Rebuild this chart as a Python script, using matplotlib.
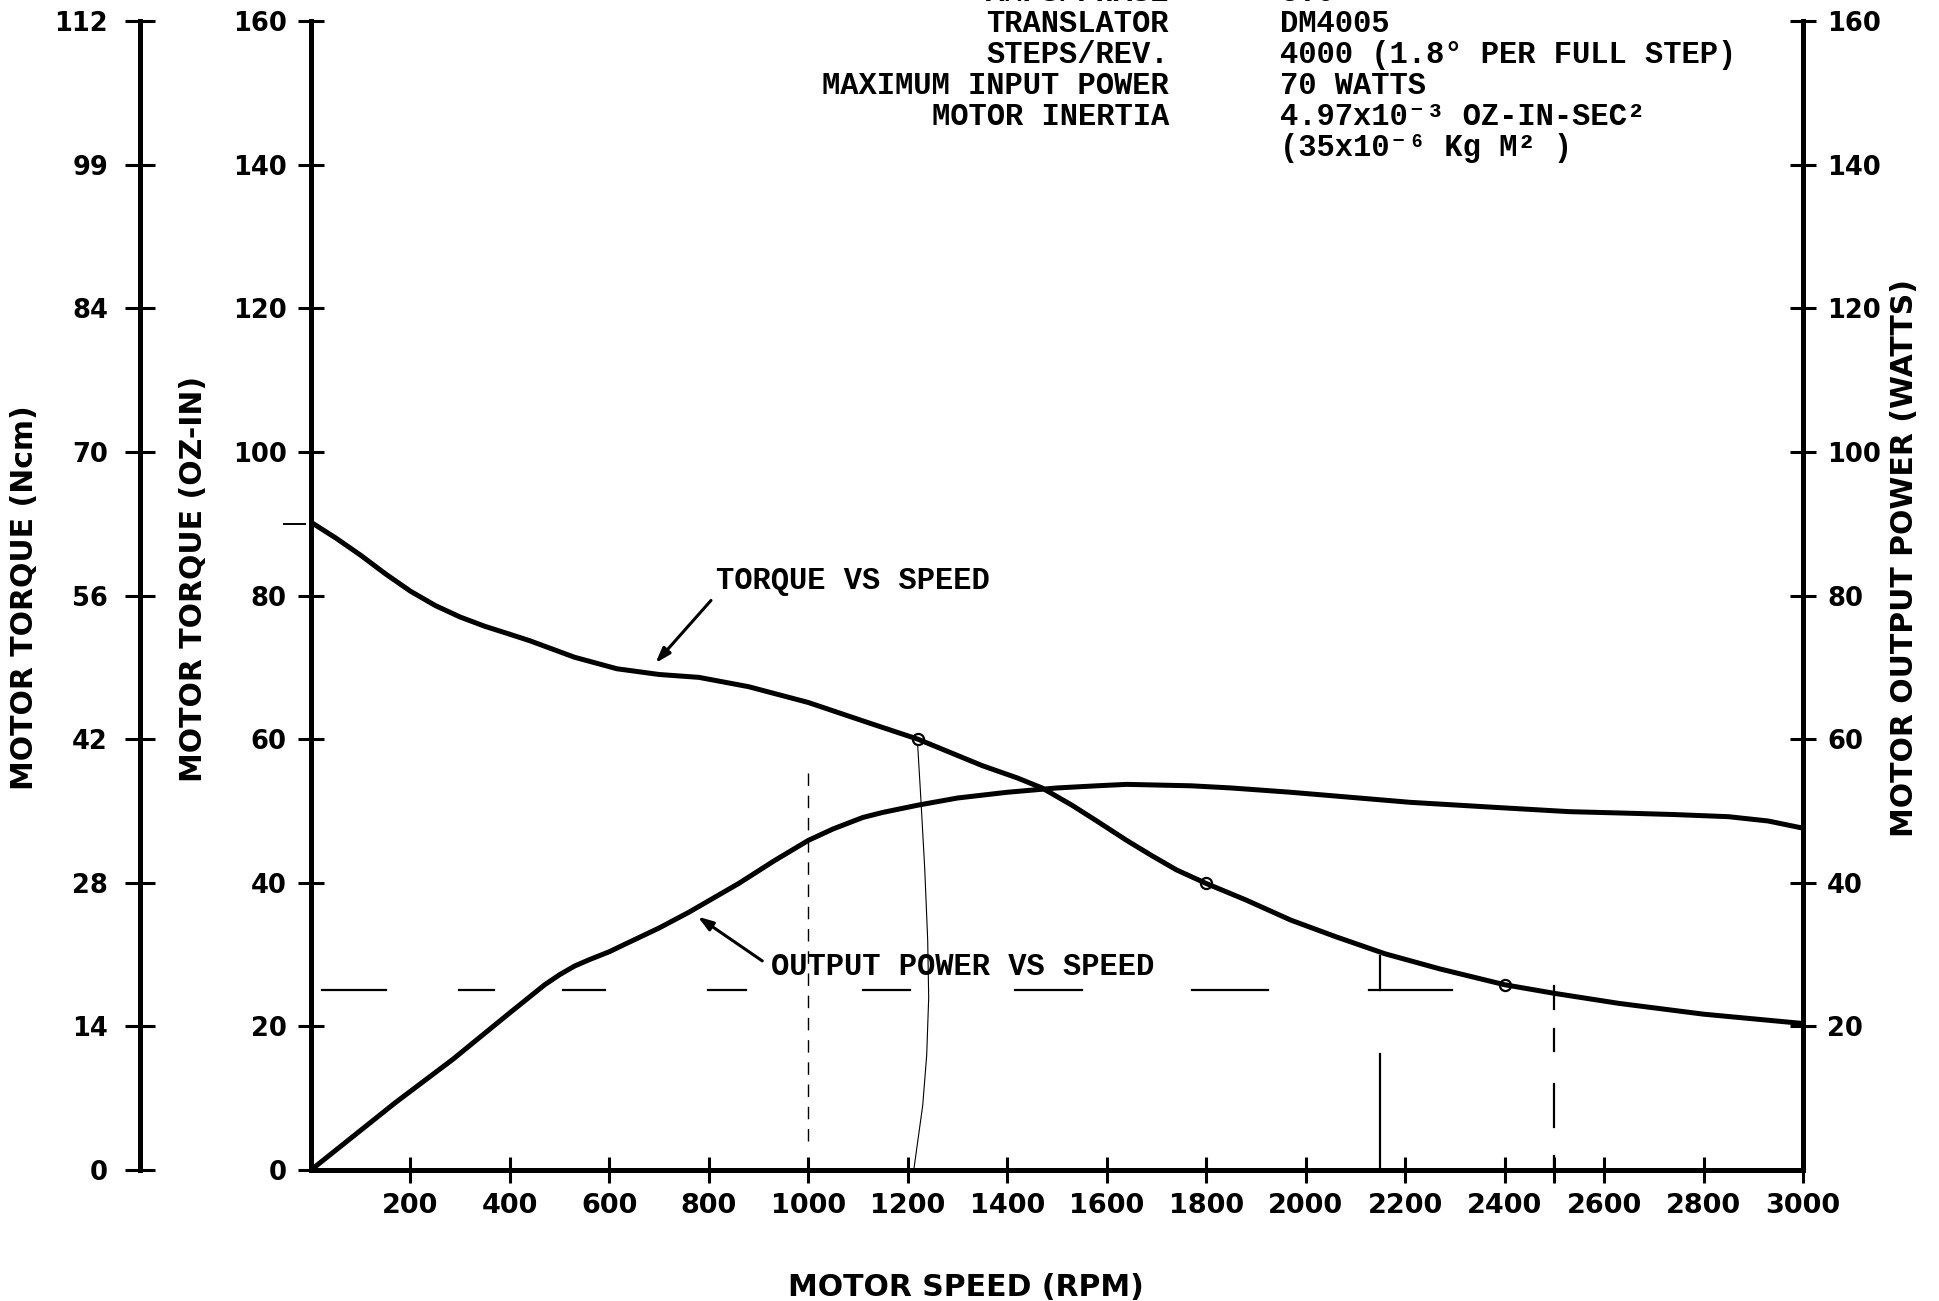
#!/usr/bin/env python3
"""
Stepper motor torque / output power vs speed curve
"""

import matplotlib
matplotlib.use('Agg')
import matplotlib.pyplot as plt

# torque vs speed (oz-in)
torque_rpm = [0, 50, 100, 150, 200, 250, 300, 350, 400, 440, 530, 615, 700, 780, 880,
              1000, 1120, 1220, 1350, 1420, 1470, 1530, 1580, 1640, 1690, 1740, 1800, 1880,
              1970, 2060, 2160, 2270, 2400, 2500, 2630, 2800, 3000]
torque_ozin = [90.2, 88.0, 85.6, 83.0, 80.6, 78.6, 77.0, 75.7, 74.6, 73.7, 71.4, 69.8, 69.0,
               68.6, 67.3, 65.1, 62.3, 60.0, 56.3, 54.6, 53.2, 50.8, 48.6, 45.9, 43.8, 41.8,
               39.9, 37.6, 34.8, 32.5, 30.1, 28.0, 25.8, 24.6, 23.2, 21.7, 20.4]

# output power vs speed (watts)
power_rpm = [0, 170, 285, 400, 470, 500, 530, 560, 600, 630, 700, 760, 860, 930, 1000, 1050,
             1110, 1150, 1220, 1300, 1400, 1500, 1580, 1640, 1770, 1850, 1970, 2090, 2210,
             2380, 2530, 2640, 2740, 2850, 2930, 3000]
power_watts = [0, 9.4, 15.4, 21.9, 25.8, 27.2, 28.4, 29.3, 30.4, 31.4, 33.7, 35.9, 39.9, 43.0,
               45.9, 47.5, 49.1, 49.8, 50.8, 51.8, 52.6, 53.2, 53.5, 53.7, 53.5, 53.2, 52.6,
               51.9, 51.2, 50.5, 49.9, 49.7, 49.5, 49.2, 48.6, 47.6]

# hand marked points on the torque curve
marked_rpm = [1220, 1800, 2400]
marked_ozin = [60.0, 40.0, 25.8]

# dashed 25 line, drawn by hand as separate dashes (rpm start, rpm end)
dash_level = 25
dash_segments = [(23, 150), (298, 367), (507, 592), (798, 874), (1110, 1205),
                 (1415, 1550), (1772, 1925), (2128, 2295)]

# vertical construction lines
v2150_segments = [(25, 29.8), (0, 16.2)]
v2500_segments = [(22.4, 25.6), (16.6, 19.6), (6.0, 12.0), (0.2, 2.0)]
v1000_range = (4, 56)

# the thin pencil line near 1200 rpm
pencil_rpm = [1220, 1226, 1234, 1240, 1242, 1238, 1230, 1218, 1212]
pencil_val = [59, 52, 42, 32, 24, 16, 9, 3, 0]

x_ticks = list(range(200, 3001, 200))
oz_ticks = list(range(0, 161, 20))
ncm_labels = ['0', '14', '28', '42', '56', '70', '84', '99', '112']
watt_ticks = list(range(20, 161, 20))

spec_names = ['AMPS/PHASE', 'TRANSLATOR', 'STEPS/REV.', 'MAXIMUM INPUT POWER', 'MOTOR INERTIA', '']
spec_values = ['5.0', 'DM4005', '4000 (1.8\u00b0 PER FULL STEP)', '70 WATTS',
               '4.97x10\u207b\u00b3 OZ-IN-SEC\u00b2', '(35x10\u207b\u2076 Kg M\u00b2 )']

W, H = 1940, 1301
mono = ['Liberation Mono', 'DejaVu Sans Mono']

fig = plt.figure(figsize=(W / 100, H / 100), dpi=100)
x0, x1, y0, y1 = 311, 1803, 1170, 21
ax = fig.add_axes([x0 / W, (H - y0) / H, (x1 - x0) / W, (y0 - y1) / H])
ax.set_xlim(0, 3000)
ax.set_ylim(0, 160)

lw_axis = 3.6
tick_kw = dict(direction='inout', length=19, width=2.2, color='black')

# main (oz-in) axis
for s in ['top', 'right']:
    ax.spines[s].set_visible(False)
for s in ['left', 'bottom']:
    ax.spines[s].set_linewidth(lw_axis)
ax.set_xticks(x_ticks)
ax.set_xticklabels([str(v) for v in x_ticks], fontsize=19.5, fontweight='bold')
ax.set_xticks([2500], minor=True)
ax.tick_params(axis='x', which='both', pad=7, **tick_kw)
ax.set_yticks(oz_ticks)
ax.set_yticklabels([str(v) for v in oz_ticks], fontsize=18.5, fontweight='bold')
ax.tick_params(axis='y', pad=8, **tick_kw)

# right watts axis
ax2 = ax.twinx()
ax2.set_ylim(0, 160)
for s in ['top', 'bottom', 'left']:
    ax2.spines[s].set_visible(False)
ax2.spines['right'].set_linewidth(lw_axis)
ax2.set_yticks(watt_ticks)
ax2.set_yticklabels([str(v) for v in watt_ticks], fontsize=18.5, fontweight='bold')
ax2.tick_params(axis='y', pad=8, **tick_kw)

# far left Ncm axis
ax3 = ax.twinx()
ax3.set_ylim(0, 160)
for s in ['top', 'bottom', 'right']:
    ax3.spines[s].set_visible(False)
ax3.spines['left'].set_visible(True)
ax3.spines['left'].set_position(('axes', (140 - x0) / (x1 - x0)))
ax3.spines['left'].set_linewidth(lw_axis)
ax3.yaxis.set_ticks_position('left')
ax3.set_yticks(oz_ticks)
ax3.set_yticklabels(ncm_labels, fontsize=18.5, fontweight='bold')
ax3.tick_params(axis='y', pad=12, length=22, direction='inout', width=2.2)

# curves
ax.plot(torque_rpm, torque_ozin, color='black', lw=3.6, solid_capstyle='round',
        solid_joinstyle='round', zorder=5)
ax.plot(power_rpm, power_watts, color='black', lw=3.6, solid_capstyle='round',
        solid_joinstyle='round', zorder=5)
ax.plot(marked_rpm, marked_ozin, 'o', ms=8, mfc='none', mec='black', mew=1.6, zorder=6)

# construction lines
for a, b in dash_segments:
    ax.plot([a, b], [dash_level, dash_level], color='black', lw=1.6)
for a, b in v2150_segments:
    ax.plot([2150, 2150], [a, b], color='black', lw=1.6)
for a, b in v2500_segments:
    ax.plot([2500, 2500], [a, b], color='black', lw=1.6)
ax.plot([1000, 1000], v1000_range, color='black', lw=1.0, dashes=(9, 7))
ax.plot(pencil_rpm, pencil_val, color='black', lw=0.8)
ax.plot([-55, -12], [90, 90], color='black', lw=1.4, clip_on=False)

# curve labels
ax.text(815, 82, 'TORQUE VS SPEED', fontsize=22, fontweight='bold', family=mono,
        ha='left', va='center')
ax.annotate('', xy=(689, 70.3), xytext=(808, 79.6),
            arrowprops=dict(arrowstyle='-|>,head_length=0.9,head_width=0.3',
                            color='black', lw=2.2))
ax.text(925, 28.2, 'OUTPUT POWER VS SPEED', fontsize=22, fontweight='bold', family=mono,
        ha='left', va='center')
ax.annotate('', xy=(773, 35.5), xytext=(912, 28.9),
            arrowprops=dict(arrowstyle='-|>,head_length=0.9,head_width=0.3',
                            color='black', lw=2.2))

# spec block at the top (first line is cut off by the page edge, as in the scan)
for i, (name, val) in enumerate(zip(spec_names, spec_values)):
    yc = 1 - (-7 + 31 * i) / H
    fig.text(1169 / W, yc, name, fontsize=22, fontweight='bold', family=mono,
             ha='right', va='center')
    fig.text(1280 / W, yc, val, fontsize=22, fontweight='bold', family=mono,
             ha='left', va='center')

# axis titles
fig.text(25 / W, 1 - 598 / H, 'MOTOR TORQUE (Ncm)', rotation=90, fontsize=21.5,
         fontweight='bold', ha='center', va='center')
fig.text(194 / W, 1 - 579 / H, 'MOTOR TORQUE (OZ-IN)', rotation=90, fontsize=21.5,
         fontweight='bold', ha='center', va='center')
fig.text(1905 / W, 1 - 558 / H, 'MOTOR OUTPUT POWER (WATTS)', rotation=90, fontsize=21.5,
         fontweight='bold', ha='center', va='center')
fig.text(966 / W, 1 - 1287 / H, 'MOTOR SPEED (RPM)', fontsize=21.5,
         fontweight='bold', ha='center', va='center')

fig.savefig('out.png', dpi=100, facecolor='white')
